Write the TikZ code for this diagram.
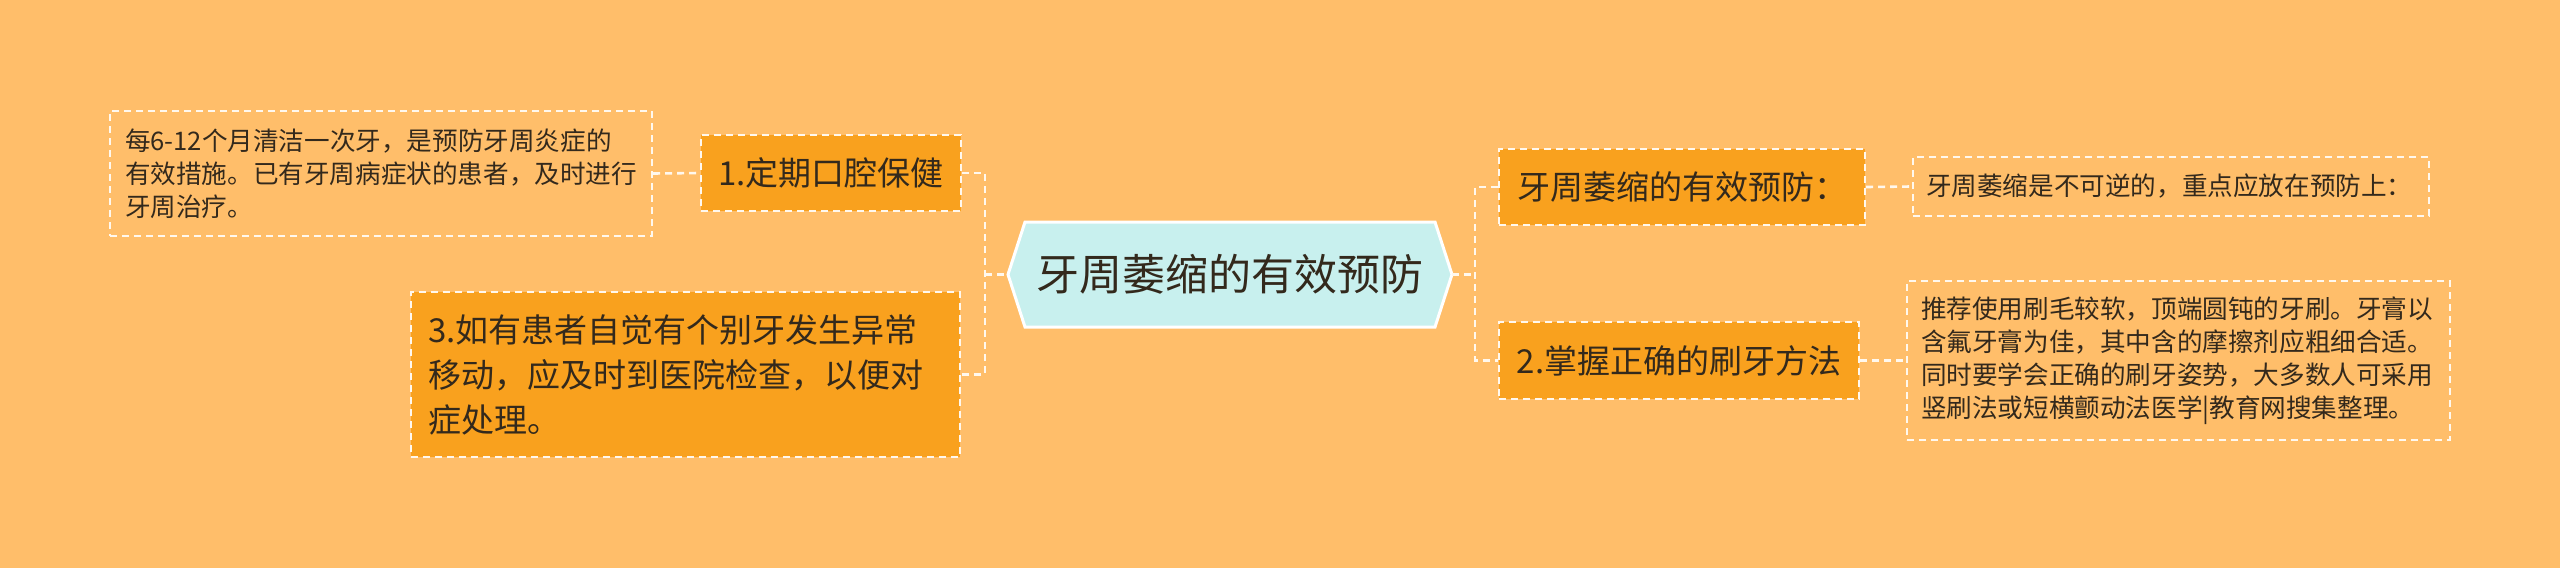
\documentclass[tikz,border=0pt]{standalone}
\usepackage{fontspec}
\setmainfont{Noto Sans CJK SC}
\definecolor{bg}{HTML}{FFBE6A}
\definecolor{brfill}{HTML}{F9A11E}
\definecolor{hexfill}{HTML}{C8F0EE}
\definecolor{txt}{HTML}{33291C}
\definecolor{ln}{HTML}{FFF8EE}
\tikzset{
  conn/.style={draw=ln, line width=2.6pt, dash pattern=on 7pt off 5pt},
  branchbox/.style={draw=ln, line width=2.4pt, dash pattern=on 7pt off 5pt, fill=brfill, text=txt,
    font=\fontsize{33}{45}\selectfont, inner sep=0pt},
  leafbox/.style={draw=ln, line width=2.4pt, dash pattern=on 7pt off 5pt, text=txt,
    font=\fontsize{25.6}{33}\selectfont, inner sep=0pt},
  centertext/.style={text=txt, font=\fontsize{43}{50}\selectfont, inner sep=0pt},
}
\begin{document}
\begin{tikzpicture}[x=1pt,y=-1pt]
\fill[bg] (0,0) rectangle (2560,568);
\useasboundingbox (0,0) rectangle (2560,568);

% center hexagon
\coordinate (cL) at (1008,274.5);
\coordinate (cR) at (1452,274.5);
\draw[white, line width=3pt, fill=hexfill, line join=miter]
  (cL) -- (1025,222) -- (1435,222) -- (cR) -- (1435,327) -- (1025,327) -- cycle;
\node[centertext] (C) at (1230,274.5) {牙周萎缩的有效预防};

% left side
\node[leafbox, minimum width=542pt, minimum height=125pt, text width=512pt, align=left] (LL) at (381,173.5)
  {每6-12个月清洁一次牙，是预防牙周炎症的\\有效措施。已有牙周病症状的患者，及时进行\\牙周治疗。};
\node[branchbox, minimum width=260pt, minimum height=76pt] (B1) at (831,173) {1.定期口腔保健};
\node[branchbox, minimum width=549pt, minimum height=165pt, text width=515pt, align=left] (B3) at (685.5,374.5)
  {3.如有患者自觉有个别牙发生异常\\移动，应及时到医院检查，以便对\\症处理。};

% right side
\node[branchbox, minimum width=366pt, minimum height=76pt] (R1) at (1682,187) {牙周萎缩的有效预防：};
\node[leafbox, minimum width=516pt, minimum height=59pt, text width=490pt, align=left] (RL1) at (2171,186.5)
  {牙周萎缩是不可逆的，重点应放在预防上：};
\node[branchbox, minimum width=360pt, minimum height=77pt] (B2) at (1679,360.5) {2.掌握正确的刷牙方法};
\node[leafbox, minimum width=543pt, minimum height=159pt, text width=515pt, align=left] (RL2) at (2178.5,360.5)
  {推荐使用刷毛较软，顶端圆钝的牙刷。牙膏以\\含氟牙膏为佳，其中含的摩擦剂应粗细合适。\\同时要学会正确的刷牙姿势，大多数人可采用\\竖刷法或短横颤动法医学|教育网搜集整理。};

% connectors
\coordinate (jL) at (985,274.5);
\coordinate (jR) at (1475,274.5);
\draw[conn] (LL.east) -- (B1.west);
\draw[conn] (B1.east) -| (jL) |- (B3.east);
\draw[conn] (jL) -- (cL);
\draw[conn] (cR) -- (jR);
\draw[conn] (R1.west) -| (jR) |- (B2.west);
\draw[conn] (R1.east) -- (RL1.west);
\draw[conn] (B2.east) -- (RL2.west);
\end{tikzpicture}
\end{document}
